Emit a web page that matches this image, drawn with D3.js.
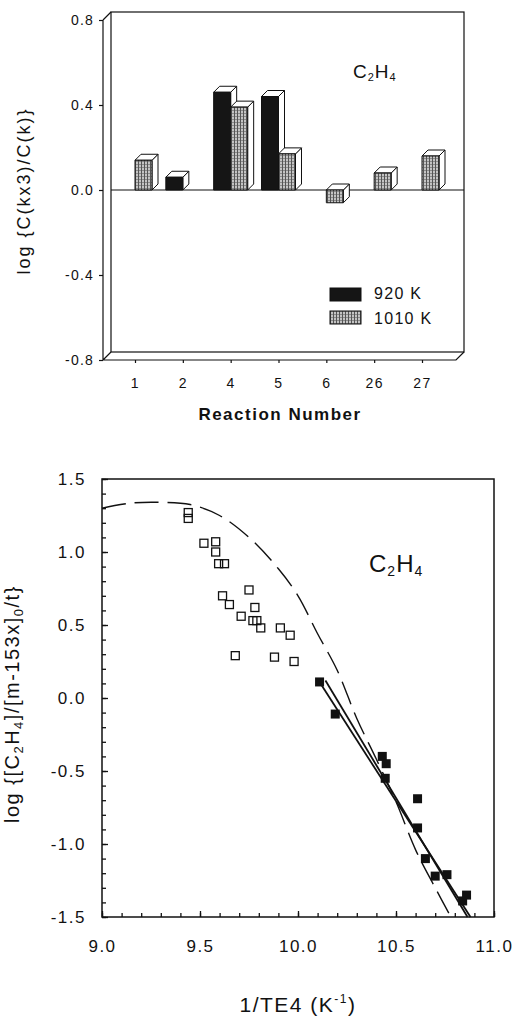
<!DOCTYPE html>
<html>
<head>
<meta charset="utf-8">
<script src="https://cdn.jsdelivr.net/npm/d3@7"></script>
<style>
  body { margin: 0; background: #fff; }
  svg { font-family: "Liberation Sans", Arial, sans-serif; }
</style>
</head>
<body>
<script>
// top panel: bar chart, log ratio per reaction
var reactions = ["1", "2", "4", "5", "6", "26", "27"];
var k920 = [null, 0.06, 0.46, 0.44, null, null, null];
var k1010 = [0.14, null, 0.39, 0.17, -0.06, 0.08, 0.16];
var barTicks = [-0.8, -0.4, 0.0, 0.4, 0.8];

// bottom panel: scatter + fits
var openX = [9.44, 9.44, 9.52, 9.58, 9.58, 9.595, 9.625, 9.615, 9.65, 9.75, 9.71, 9.78, 9.77, 9.79, 9.81, 9.91, 9.96, 9.68, 9.88, 9.98];
var openY = [1.27, 1.23, 1.06, 1.07, 1.00, 0.92, 0.92, 0.70, 0.64, 0.74, 0.56, 0.62, 0.53, 0.53, 0.48, 0.48, 0.43, 0.29, 0.28, 0.25];
var solidX = [10.11, 10.19, 10.43, 10.45, 10.445, 10.61, 10.61, 10.65, 10.70, 10.76, 10.84, 10.86];
var solidY = [0.11, -0.11, -0.40, -0.45, -0.55, -0.69, -0.89, -1.10, -1.22, -1.21, -1.39, -1.35];
var fitAX = [10.10, 10.88], fitAY = [0.13, -1.50];
var fitBX = [10.14, 10.865], fitBY = [0.12, -1.50];
var dashX = [9.0, 9.15, 9.3, 9.45, 9.6, 9.75, 9.9, 10.0, 10.1, 10.2, 10.3, 10.4, 10.5, 10.6, 10.7, 10.78];
var dashY = [1.30, 1.335, 1.34, 1.325, 1.25, 1.10, 0.885, 0.70, 0.44, 0.19, -0.14, -0.42, -0.71, -1.04, -1.30, -1.50];
var xMajor = [9.0, 9.5, 10.0, 10.5, 11.0];
var yMajor = [-1.5, -1.0, -0.5, 0.0, 0.5, 1.0, 1.5];

var svg = d3.select("body").append("svg")
  .attr("width", 519)
  .attr("height", 1016);

var ink = "#111";

// stipple fill for the 1010 K bars
var defs = svg.append("defs");
var pat = defs.append("pattern")
  .attr("id", "stip")
  .attr("patternUnits", "userSpaceOnUse")
  .attr("width", 3).attr("height", 3);
pat.append("rect").attr("width", 3).attr("height", 3).attr("fill", "#c4c4c4");
pat.append("line").attr("x1", 0.5).attr("x2", 0.5).attr("y1", 0).attr("y2", 3)
  .attr("stroke", "#555").attr("stroke-width", 1);
pat.append("rect").attr("x", 1).attr("y", 2).attr("width", 2).attr("height", 1).attr("fill", "#8a8a8a");

// ---------- top chart ----------
var yTop = d3.scaleLinear().domain([-0.8, 0.8]).range([360, 20]);
var xTop = d3.scalePoint().domain(reactions).range([135, 422]);
var depth = 8;
var frontL = 103, frontR = 456;

var topG = svg.append("g");

// back wall + floor frame
topG.append("rect")
  .attr("x", frontL + depth).attr("y", yTop(0.8) - depth)
  .attr("width", 464 - frontL - depth).attr("height", yTop(-0.8) - yTop(0.8))
  .attr("fill", "none").attr("stroke", ink).attr("stroke-width", 1.2);
topG.append("path")
  .attr("d", "M" + frontL + "," + yTop(0.8) + "L" + (frontL + depth) + "," + (yTop(0.8) - depth) +
    "M" + frontL + "," + yTop(0.8) + "V" + yTop(-0.8) + "H" + frontR + "L" + (frontR + depth) + "," + (yTop(-0.8) - depth) +
    "M" + frontL + "," + yTop(-0.8) + "L" + (frontL + depth) + "," + (yTop(-0.8) - depth))
  .attr("fill", "none").attr("stroke", ink).attr("stroke-width", 1.2);

// zero line
topG.append("line")
  .attr("x1", frontL + depth).attr("x2", 464)
  .attr("y1", yTop(0)).attr("y2", yTop(0))
  .attr("stroke", ink).attr("stroke-width", 1.2);

var yAxisTop = d3.axisLeft(yTop)
  .tickValues(barTicks)
  .tickFormat(d => d.toFixed(1))
  .tickSize(4)
  .tickPadding(5);
var gy = topG.append("g").attr("transform", `translate(${frontL},0)`).call(yAxisTop);
gy.select(".domain").remove();
gy.selectAll("line").attr("stroke", ink).attr("stroke-width", 1.2);
gy.selectAll("text").attr("font-size", 14).attr("letter-spacing", 1.2).attr("fill", ink)
  .attr("font-family", "'Liberation Sans', Arial, sans-serif");

var xAxisTop = d3.axisBottom(xTop).tickSize(3).tickPadding(15);
var gx = topG.append("g").attr("transform", `translate(0,${yTop(-0.8)})`).call(xAxisTop);
gx.select(".domain").remove();
gx.selectAll("line").attr("stroke", ink).attr("stroke-width", 1.2);
gx.selectAll("text").attr("font-size", 14).attr("letter-spacing", 1.5).attr("fill", ink)
  .attr("font-family", "'Liberation Sans', Arial, sans-serif");

// 3D bar
var barW = 17, bd = 6;
function bar3d(x0, v, fill) {
  var y0 = yTop(0), y1 = yTop(v);
  var t = Math.min(y0, y1), b = Math.max(y0, y1);
  var g = topG.append("g").attr("stroke", ink).attr("stroke-width", 1).attr("stroke-linejoin", "round");
  g.append("polygon")
    .attr("points", [[x0 + barW, t], [x0 + barW + bd, t - bd], [x0 + barW + bd, b - bd], [x0 + barW, b]].join(" "))
    .attr("fill", "#fff");
  g.append("polygon")
    .attr("points", [[x0, t], [x0 + bd, t - bd], [x0 + barW + bd, t - bd], [x0 + barW, t]].join(" "))
    .attr("fill", "#fff");
  g.append("rect")
    .attr("x", x0).attr("y", t).attr("width", barW).attr("height", b - t)
    .attr("fill", fill);
}

reactions.forEach(function (r, i) {
  var cx = xTop(r);
  if (k920[i] != null) bar3d(cx - barW, k920[i], "#151515");
  if (k1010[i] != null) bar3d(cx, k1010[i], "url(#stip)");
});

// legend
var leg = topG.append("g");
leg.append("rect").attr("x", 330).attr("y", 288).attr("width", 31).attr("height", 13)
  .attr("fill", "#151515").attr("stroke", ink);
leg.append("rect").attr("x", 330).attr("y", 311).attr("width", 31).attr("height", 13)
  .attr("fill", "url(#stip)").attr("stroke", ink);
leg.append("text").attr("x", 374).attr("y", 299).attr("font-size", 16).attr("letter-spacing", 1.3)
  .attr("fill", ink).text("920 K");
leg.append("text").attr("x", 374).attr("y", 324).attr("font-size", 16).attr("letter-spacing", 1.3)
  .attr("fill", ink).text("1010 K");

// C2H4 label
function formula(g, x, y, big, small) {
  var t = g.append("text").attr("x", x).attr("y", y).attr("font-size", big).attr("fill", ink)
    .attr("letter-spacing", 1);
  t.append("tspan").text("C");
  t.append("tspan").attr("font-size", small).attr("dy", small * 0.3).text("2");
  t.append("tspan").attr("dy", -small * 0.3).text("H");
  t.append("tspan").attr("font-size", small).attr("dy", small * 0.3).text("4");
  return t;
}
formula(topG, 353, 78, 19, 11);

topG.append("text")
  .attr("transform", "translate(30,191) rotate(-90)")
  .attr("text-anchor", "middle")
  .attr("font-size", 18).attr("letter-spacing", 2)
  .attr("fill", ink)
  .text("log {C(kx3)/C(k)}");

topG.append("text")
  .attr("x", 280).attr("y", 420)
  .attr("text-anchor", "middle")
  .attr("font-size", 17).attr("font-weight", "bold").attr("letter-spacing", 1.5)
  .attr("fill", ink)
  .text("Reaction Number");

// ---------- bottom chart ----------
var xB = d3.scaleLinear().domain([9, 11]).range([102, 494]);
var yB = d3.scaleLinear().domain([-1.5, 1.5]).range([917, 479]);
var botG = svg.append("g");

botG.append("rect")
  .attr("x", xB(9)).attr("y", yB(1.5))
  .attr("width", xB(11) - xB(9)).attr("height", yB(-1.5) - yB(1.5))
  .attr("fill", "none").attr("stroke", ink).attr("stroke-width", 1.5);

var minorY = d3.range(-15, 16).map(d => d / 10);
var minorX = d3.range(90, 111).map(d => d / 10);

function styleAxis(g) {
  g.select(".domain").remove();
  g.selectAll("line").attr("stroke", ink).attr("stroke-width", 1.3);
  g.selectAll("text").attr("font-size", 17).attr("letter-spacing", 1.5).attr("fill", ink)
    .attr("font-family", "'Liberation Sans', Arial, sans-serif");
}

botG.append("g").attr("transform", `translate(${xB(9)},0)`)
  .call(d3.axisLeft(yB).tickValues(minorY).tickSize(-4).tickFormat(""))
  .call(styleAxis);
botG.append("g").attr("transform", `translate(${xB(9)},0)`)
  .call(d3.axisLeft(yB).tickValues(yMajor).tickSize(-6).tickPadding(16).tickFormat(d => d.toFixed(1)))
  .call(styleAxis);
botG.append("g").attr("transform", `translate(0,${yB(-1.5)})`)
  .call(d3.axisBottom(xB).tickValues(minorX).tickSize(-4).tickFormat(""))
  .call(styleAxis);
botG.append("g").attr("transform", `translate(0,${yB(-1.5)})`)
  .call(d3.axisBottom(xB).tickValues(xMajor).tickSize(-6).tickPadding(23).tickFormat(d => d.toFixed(1)))
  .call(styleAxis);

// dashed model curve
var dashPts = dashX.map((x, i) => [x, dashY[i]]);
var dashLine = d3.line()
  .x(d => xB(d[0]))
  .y(d => yB(d[1]))
  .curve(d3.curveCatmullRom);
botG.append("path")
  .datum(dashPts)
  .attr("d", dashLine)
  .attr("fill", "none").attr("stroke", ink).attr("stroke-width", 1.4)
  .attr("stroke-dasharray", "24,9");

// fit lines
[[fitAX, fitAY], [fitBX, fitBY]].forEach(function (f) {
  botG.append("line")
    .attr("x1", xB(f[0][0])).attr("y1", yB(f[1][0]))
    .attr("x2", xB(f[0][1])).attr("y2", yB(f[1][1]))
    .attr("stroke", ink).attr("stroke-width", 1.8);
});

// open squares
var sq = 8;
botG.selectAll("rect.open")
  .data(openX.map((x, i) => [x, openY[i]]))
  .enter().append("rect")
  .attr("class", "open")
  .attr("x", d => xB(d[0]) - sq / 2).attr("y", d => yB(d[1]) - sq / 2)
  .attr("width", sq).attr("height", sq)
  .attr("fill", "none").attr("stroke", ink).attr("stroke-width", 1.3);

// filled squares
botG.selectAll("rect.solid")
  .data(solidX.map((x, i) => [x, solidY[i]]))
  .enter().append("rect")
  .attr("class", "solid")
  .attr("x", d => xB(d[0]) - 4.5).attr("y", d => yB(d[1]) - 4.5)
  .attr("width", 9).attr("height", 9)
  .attr("fill", ink);

formula(botG, 369, 572, 24, 14);

// axis titles
var yl = botG.append("text")
  .attr("transform", "translate(19,823) rotate(-90)")
  .attr("font-size", 20).attr("letter-spacing", 1.5)
  .attr("fill", ink);
yl.append("tspan").text("log {[C");
yl.append("tspan").attr("font-size", 13).attr("dy", 4).text("2");
yl.append("tspan").attr("dy", -4).text("H");
yl.append("tspan").attr("font-size", 13).attr("dy", 4).text("4");
yl.append("tspan").attr("dy", -4).text("]/[m-153x]");
yl.append("tspan").attr("font-size", 13).attr("dy", 4).text("0");
yl.append("tspan").attr("dy", -4).text("/t}");

var xl = botG.append("text")
  .attr("x", 298).attr("y", 1012)
  .attr("text-anchor", "middle")
  .attr("font-size", 21).attr("letter-spacing", 1.5)
  .attr("fill", ink);
xl.append("tspan").text("1/TE4 (K");
xl.append("tspan").attr("font-size", 12).attr("dy", -9).text("-1");
xl.append("tspan").attr("dy", 9).text(")");
</script>
</body>
</html>
